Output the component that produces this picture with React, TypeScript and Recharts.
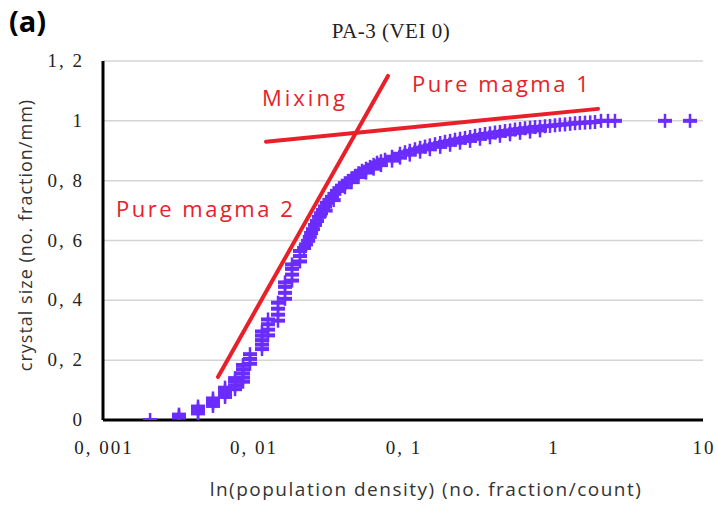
import React from "react";
import {
  ScatterChart,
  Scatter,
  XAxis,
  YAxis,
  CartesianGrid,
  ReferenceLine,
} from "recharts";

const PURPLE = "#6a2cff";
const RED = "#e8202a";

const xTicks = [0.001, 0.01, 0.1, 1, 10];
const xTickLabels = ["0, 001", "0, 01", "0, 1", "1", "10"];
const yTicks = [0, 0.2, 0.4, 0.6, 0.8, 1, 1.2];
const yTickLabels = ["0", "0, 2", "0, 4", "0, 6", "0, 8", "1", "1, 2"];

// population density (x) values of the samples
const densityValues = [
  0.00206,
  0.00321, 0.00321, 0.00321,
  0.0043, 0.0043, 0.0043, 0.0043,
  0.00541, 0.00541, 0.00541, 0.00541,
  0.00651, 0.00651, 0.00651, 0.00651,
  0.00759, 0.00759, 0.00759, 0.00759,
  0.00858, 0.00858, 0.00858, 0.00858, 0.00858,
  0.00955, 0.00955, 0.00955,
  0.01148, 0.01148, 0.01148, 0.01148, 0.01148,
  0.01259, 0.01259, 0.01259, 0.01259,
  0.01468, 0.01468, 0.01468, 0.01468,
  0.01634, 0.01634, 0.01634, 0.01634,
  0.0182, 0.0182, 0.0182, 0.0182,
  0.02057, 0.02057, 0.02057,
  0.0219, 0.0226, 0.0233, 0.0239, 0.0244, 0.0251, 0.0259, 0.0267, 0.0275,
  0.0284, 0.0293, 0.0302, 0.0311, 0.0323, 0.0336, 0.0349, 0.0363, 0.0377,
  0.0392, 0.041, 0.043, 0.0454, 0.0479, 0.0505, 0.0533, 0.0567, 0.0603,
  0.0637, 0.0671, 0.0713, 0.0759, 0.0845, 0.0955,
  0.1031, 0.111, 0.1202, 0.13, 0.1402, 0.151, 0.1635, 0.177, 0.1905, 0.206,
  0.2222, 0.24, 0.2591, 0.28, 0.302, 0.326, 0.3521, 0.38, 0.4105, 0.443,
  0.4786, 0.517, 0.558, 0.603, 0.6506, 0.703, 0.7586, 0.819, 0.8845, 0.955,
  1.031, 1.11, 1.202, 1.3, 1.402, 1.51, 1.634, 1.77, 1.905,
  2.089, 2.326, 2.589, 5.58, 8.19,
  // lower edge of the dense band
  0.0305, 0.0345, 0.041, 0.0454, 0.0505, 0.0567, 0.0637, 0.0713, 0.0845,
  0.0955, 0.111, 0.13, 0.151, 0.177, 0.206, 0.24, 0.28, 0.326, 0.38, 0.443,
  0.517, 0.603, 0.703, 0.819,
];

// crystal size (y) values of the samples
const sizeValues = [
  0,
  0.008, 0.013, 0.018,
  0.022, 0.03, 0.038, 0.045,
  0.047, 0.056, 0.065, 0.072,
  0.077, 0.088, 0.099, 0.108,
  0.103, 0.115, 0.128, 0.14,
  0.128, 0.142, 0.156, 0.17, 0.184,
  0.188, 0.204, 0.22,
  0.237, 0.252, 0.267, 0.282, 0.296,
  0.283, 0.302, 0.32, 0.336,
  0.332, 0.352, 0.372, 0.392,
  0.405, 0.425, 0.445, 0.46,
  0.466, 0.486, 0.505, 0.52,
  0.53, 0.548, 0.565,
  0.575, 0.587, 0.599, 0.612, 0.625, 0.638, 0.652, 0.665, 0.679,
  0.691, 0.702, 0.714, 0.726, 0.736, 0.746, 0.756, 0.766, 0.775,
  0.783, 0.791, 0.799, 0.808, 0.816, 0.825, 0.833, 0.84, 0.846,
  0.853, 0.86, 0.865, 0.87, 0.88, 0.89,
  0.895, 0.9, 0.905, 0.91, 0.914, 0.918, 0.922, 0.926, 0.93, 0.933,
  0.937, 0.94, 0.943, 0.946, 0.95, 0.953, 0.956, 0.958, 0.961, 0.963,
  0.966, 0.968, 0.971, 0.973, 0.975, 0.977, 0.979, 0.98, 0.982, 0.983,
  0.985, 0.987, 0.988, 0.99, 0.992, 0.993, 0.994, 0.995, 0.996,
  1.0, 1.0, 1.0, 1.0, 1.0,
  // lower edge of the dense band
  0.7, 0.735, 0.778, 0.795, 0.812, 0.827, 0.84, 0.852, 0.867,
  0.877, 0.887, 0.897, 0.905, 0.913, 0.92, 0.927, 0.933, 0.94, 0.945, 0.95,
  0.955, 0.96, 0.964, 0.968,
];

// red trend lines: [x1, y1, x2, y2]
const mixingLine = [0.00584, 0.144, 0.0794, 1.15];
const magma1Line = [0.01221, 0.93, 1.995, 1.04];

const samples = densityValues.map((x, i) => ({ x, y: sizeValues[i] }));

const PlusShape = (props: any) => {
  const { cx, cy } = props;
  if (cx == null || cy == null) return null;
  return (
    <g>
      <line x1={cx - 7} x2={cx + 7} y1={cy} y2={cy} stroke={PURPLE} strokeWidth={4} />
      <line x1={cx} x2={cx} y1={cy - 7} y2={cy + 7} stroke={PURPLE} strokeWidth={2.5} />
    </g>
  );
};

const YTick = (props: any) => {
  const { x, y, index } = props;
  return (
    <text
      x={x - 19}
      y={y + 6}
      textAnchor="end"
      fontFamily="'Liberation Serif', serif"
      fontSize={19}
      letterSpacing={2}
      fill="#222"
    >
      {yTickLabels[index]}
    </text>
  );
};

const XTick = (props: any) => {
  const { x, y, index } = props;
  return (
    <text
      x={x + 1}
      y={y + 34}
      textAnchor="middle"
      fontFamily="'Liberation Serif', serif"
      fontSize={19}
      letterSpacing={2}
      fill="#222"
    >
      {xTickLabels[index]}
    </text>
  );
};

const sans = "'Open Sans', 'Noto Sans', sans-serif";

export default function App() {
  return (
    <div style={{ position: "absolute", left: 0, top: 0, width: 718, height: 508, background: "#fff" }}>
      <ScatterChart
        width={718}
        height={508}
        margin={{ top: 61, right: 15, bottom: 48, left: 40 }}
      >
        <CartesianGrid vertical={false} stroke="#d4d4d4" strokeWidth={1.5} />
        <XAxis
          dataKey="x"
          type="number"
          scale="log"
          domain={[0.001, 10]}
          ticks={xTicks}
          allowDataOverflow
          height={40}
          tickLine={false}
          tickSize={0}
          tickMargin={0}
          axisLine={{ stroke: "#000", strokeWidth: 3 }}
          tick={<XTick />}
        />
        <YAxis
          dataKey="y"
          type="number"
          domain={[0, 1.2]}
          ticks={yTicks}
          allowDataOverflow
          width={63}
          tickLine={false}
          tickSize={0}
          tickMargin={0}
          axisLine={{ stroke: "#000", strokeWidth: 3 }}
          tick={<YTick />}
        />
        <Scatter data={samples} shape={<PlusShape />} isAnimationActive={false} />
        <ReferenceLine
          segment={[
            { x: mixingLine[0], y: mixingLine[1] },
            { x: mixingLine[2], y: mixingLine[3] },
          ]}
          stroke={RED}
          strokeWidth={4}
          strokeLinecap="round"
          ifOverflow="visible"
        />
        <ReferenceLine
          segment={[
            { x: magma1Line[0], y: magma1Line[1] },
            { x: magma1Line[2], y: magma1Line[3] },
          ]}
          stroke={RED}
          strokeWidth={4}
          strokeLinecap="round"
          ifOverflow="visible"
        />
      </ScatterChart>
      <svg
        width={718}
        height={508}
        style={{ position: "absolute", left: 0, top: 0, pointerEvents: "none" }}
      >
        <text x={9} y={32} fontFamily={sans} fontWeight={700} fontSize={29} fill="#000">
          (a)
        </text>
        <text
          x={391}
          y={38}
          textAnchor="middle"
          fontFamily="'Liberation Serif', serif"
          fontSize={21}
          letterSpacing={0.5}
          fill="#222"
        >
          PA-3 (VEI 0)
        </text>
        <text x={262} y={106} fontFamily={sans} fontSize={22} letterSpacing={3} fill={RED}>
          Mixing
        </text>
        <text x={412} y={92} fontFamily={sans} fontSize={22} letterSpacing={2.5} fill={RED}>
          Pure magma 1
        </text>
        <text x={116} y={217} fontFamily={sans} fontSize={22} letterSpacing={2.5} fill={RED}>
          Pure magma 2
        </text>
        <text
          x={426}
          y={496}
          textAnchor="middle"
          fontFamily={sans}
          fontSize={19}
          letterSpacing={1.5}
          fill="#333"
        >
          ln(population density) (no. fraction/count)
        </text>
        <text
          transform="translate(32, 235) rotate(-90)"
          textAnchor="middle"
          fontFamily={sans}
          fontSize={18}
          letterSpacing={1}
          fill="#333"
        >
          crystal size (no. fraction/mm)
        </text>
      </svg>
    </div>
  );
}
